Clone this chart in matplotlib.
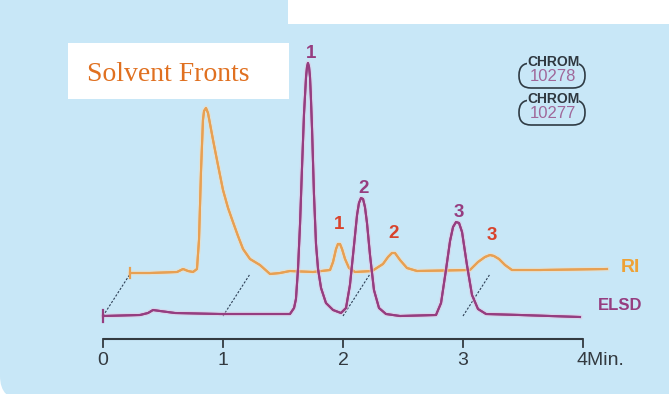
import matplotlib
matplotlib.use("Agg")
import matplotlib.pyplot as plt
from matplotlib.patches import FancyBboxPatch, Rectangle
import matplotlib.patheffects as pe

# ---- chromatogram data (time in minutes, detector signal in arbitrary units) ----
elsd_t = [0.000, 0.308, 0.375, 0.417, 0.475, 0.600, 0.975, 1.558, 1.592, 1.608,
          1.625, 1.642, 1.658, 1.675, 1.692, 1.700, 1.708, 1.717, 1.725, 1.733,
          1.742, 1.758, 1.775, 1.792, 1.817, 1.858, 1.917, 1.983, 2.025, 2.058,
          2.092, 2.117, 2.133, 2.150, 2.167, 2.183, 2.200, 2.225, 2.258, 2.300,
          2.358, 2.475, 2.775, 2.817, 2.858, 2.892, 2.917, 2.942, 2.967, 2.992,
          3.033, 3.075, 3.125, 3.192, 3.475, 3.975]
elsd_y = [23, 24, 26, 29, 28, 26, 25, 25, 31, 40,
          70, 115, 170, 225, 262, 272, 276, 272, 262, 240,
          210, 145, 95, 70, 51, 36, 29, 26, 31, 54,
          94, 124, 136, 141, 140, 132, 116, 84, 49, 31,
          25, 23, 24, 36, 69, 98, 112, 117, 116, 107,
          74, 44, 30, 25, 24, 22]

ri_t = [0.225, 0.392, 0.617, 0.667, 0.708, 0.750, 0.783, 0.800, 0.817, 0.833,
        0.842, 0.858, 0.875, 0.917, 0.958, 1.000, 1.042, 1.083, 1.125, 1.167,
        1.225, 1.308, 1.392, 1.475, 1.558, 1.750, 1.892, 1.917, 1.942, 1.958,
        1.975, 1.992, 2.017, 2.050, 2.100, 2.242, 2.333, 2.375, 2.408, 2.433,
        2.475, 2.533, 2.617, 3.058, 3.125, 3.183, 3.225, 3.258, 3.300, 3.350,
        3.408, 3.642, 4.200]
ri_y = [66, 66, 67, 70, 68, 67, 70, 99, 169, 219,
        228, 231, 226, 199, 174, 149, 131, 117, 103, 90,
        80, 74, 65, 66, 68, 67, 69, 77, 90, 95,
        95, 90, 80, 71, 67, 68, 75, 82, 86, 86,
        79, 71, 68, 69, 77, 82, 84, 83, 80, 74,
        69, 69, 70]

# peak numbering: (retention time, label)
elsd_peaks = [(1.708, "1"), (2.150, "2"), (2.942, "3")]
ri_peaks = [(1.958, "1"), (2.408, "2"), (3.225, "3")]

# time axis
tick_values = [0, 1, 2, 3, 4]
tick_labels = ["0", "1", "2", "3", "4Min."]

# detector lag between ELSD and RI traces (min) and baseline levels
lag = 0.22
elsd_base = 24
ri_base = 65

badges = ["10278", "10277"]

# ---- colours ----
BG = "#c8e7f7"
ELSD_C = "#963d80"
RI_C = "#e8a052"
RED = "#d8432c"
DARK = "#333a40"
NARROW = ["Liberation Sans Narrow", "Liberation Sans"]

W, H = 669, 394
fig = plt.figure(figsize=(W / 100, H / 100), dpi=100)
fig.patch.set_facecolor("white")

# background layer in pixel units (origin top-left)
bg = fig.add_axes([0, 0, 1, 1], zorder=0)
bg.set_xlim(0, W)
bg.set_ylim(H, 0)
bg.axis("off")
bg.add_patch(FancyBboxPatch((0, -40), W + 40, H + 46,
                            boxstyle="round,pad=0,rounding_size=24",
                            facecolor=BG, edgecolor="none"))

# chromatogram layer
ax = fig.add_axes([0, 0, 1, 1], zorder=1)
ax.set_facecolor("none")
ax.set_xlim(-103 / 120, (W - 103) / 120)
ax.set_ylim(-55, 339)
ax.axis("off")

halo = lambda c: [pe.withStroke(linewidth=3.4, foreground=c, alpha=0.5), pe.Normal()]

# traces
ax.plot(ri_t, ri_y, color=RI_C, lw=1.5, solid_joinstyle="round",
        path_effects=halo("#f6dcb8"), zorder=3)
ax.plot(elsd_t, elsd_y, color=ELSD_C, lw=1.5, solid_joinstyle="round",
        path_effects=halo("#e2c4e0"), zorder=4)

# start-of-trace caps
ax.plot([elsd_t[0]] * 2, [elsd_y[0] - 6, elsd_y[0] + 6], color=ELSD_C, lw=1.6, zorder=4)
ax.plot([ri_t[0]] * 2, [ri_y[0] - 5, ri_y[0] + 5], color=RI_C, lw=1.6, zorder=3)

# dotted connectors showing the time offset between detectors
for t in tick_values[:-1]:
    ax.plot([t, t + lag], [elsd_base - 1, ri_base - 1], color="#2e3f55",
            lw=0.8, ls=(0, (2, 1.5)), zorder=2)

# peak numbers
for t, lab in elsd_peaks:
    y = elsd_y[elsd_t.index(t)]
    ax.annotate(lab, (t, y), xytext=(2, 1), textcoords="offset points",
                ha="center", va="bottom", color=ELSD_C, fontsize=13.5,
                fontweight="bold", family=NARROW)
for t, lab in ri_peaks:
    y = ri_y[ri_t.index(t)]
    ax.annotate(lab, (t, y), xytext=(1, 8), textcoords="offset points",
                ha="center", va="bottom", color=RED, fontsize=13.5,
                fontweight="bold", family=NARROW)

# trace names
ax.annotate("RI", (ri_t[-1], ri_y[-1]), xytext=(10, 1), textcoords="offset points",
            ha="left", va="center", color="#eea236", fontsize=14, fontweight="bold",
            family=NARROW)
ax.annotate("ELSD", (3.975, elsd_y[-1]), xytext=(13, 8), textcoords="offset points",
            ha="left", va="center", color=ELSD_C, fontsize=12, fontweight="bold",
            family=NARROW)

# time axis
ax.plot([tick_values[0], tick_values[-1]], [0, 0], color=DARK, lw=1.5,
        solid_capstyle="butt", zorder=2)
for t, lab in zip(tick_values, tick_labels):
    ax.plot([t, t], [0, -8], color=DARK, lw=1.3, zorder=2)
    if lab == tick_labels[-1]:
        ax.annotate(lab, (t, -13), xytext=(-5, 0), textcoords="offset points",
                    ha="left", va="top", color=DARK, fontsize=14,
                    family="Liberation Sans")
    else:
        ax.text(t, -13, lab, ha="center", va="top", color=DARK, fontsize=14,
                family="Liberation Sans")

# overlay layer in pixel units for badges and caption boxes
ov = fig.add_axes([0, 0, 1, 1], zorder=2)
ov.set_xlim(0, W)
ov.set_ylim(H, 0)
ov.axis("off")

for i, num in enumerate(badges):
    cy = 75 + 37 * i
    ov.add_patch(FancyBboxPatch((519, cy - 12), 66, 25,
                                boxstyle="round,pad=0,rounding_size=12",
                                facecolor="none", edgecolor="#2f3b44", lw=1.2))
    ov.text(553, cy - 13, "CHROM", ha="center", va="center",
            fontsize=10, fontweight="bold", color="#2f3840", family=NARROW,
            bbox=dict(facecolor=BG, edgecolor="none", pad=0.2))
    ov.text(553, cy + 1, num, ha="center", va="center",
            fontsize=12, color="#a0689a", family="Liberation Sans")

ov.add_patch(Rectangle((288, 0), W - 288, 24, facecolor="white", edgecolor="none"))
ov.add_patch(Rectangle((68, 43), 221, 56, facecolor="white", edgecolor="none"))
ov.text(168, 74, "Solvent Fronts", ha="center", va="center",
        fontsize=20, color="#e07020", family="Liberation Serif")

fig.savefig("out.png", dpi=100, facecolor=fig.get_facecolor())
